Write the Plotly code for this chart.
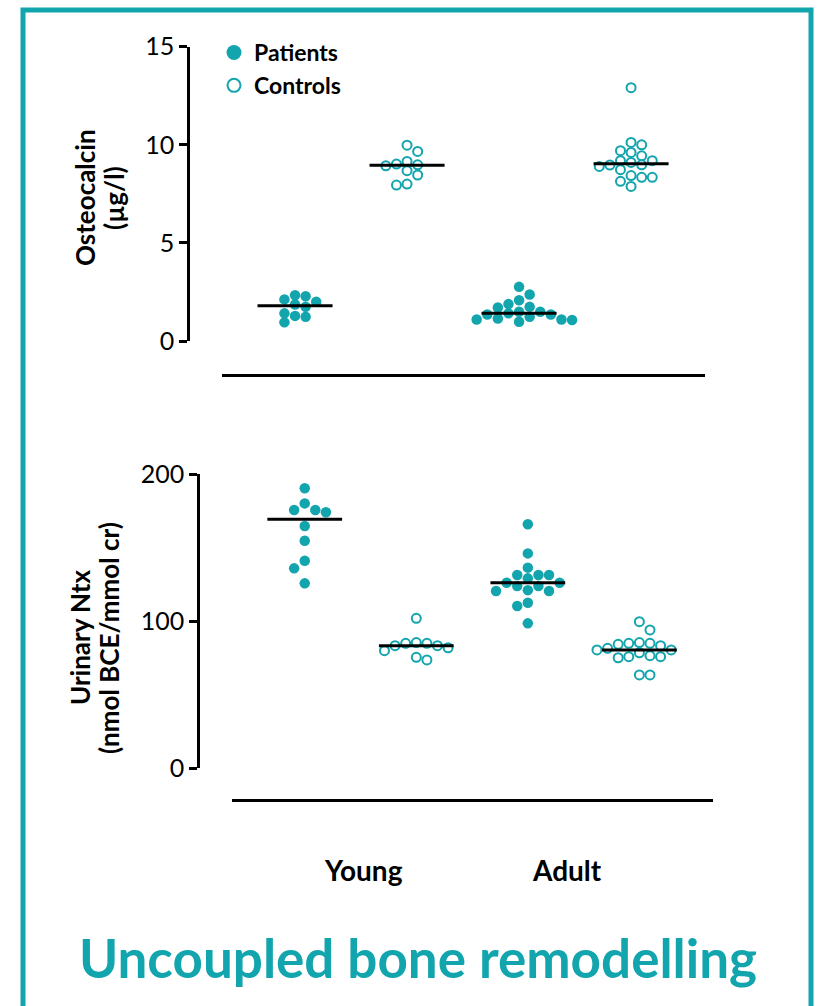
import numpy as np
import plotly.graph_objects as go

# ---------------- data ----------------
groups = ["Young", "Adult"]

oc_young_patients = [2.12, 1.86, 2.33, 1.74, 2.00, 2.28, 1.28, 0.95, 1.23, 1.41]
oc_young_controls = [9.66, 9.98, 8.98, 8.93, 9.02, 9.15, 8.46, 8.68, 7.95, 8.00]
oc_adult_patients = [2.76, 2.37, 2.08, 1.88, 1.74, 1.71, 1.49, 1.49, 1.41, 1.35,
                     1.35, 1.23, 1.15, 1.10, 1.10, 1.07, 0.98]
oc_adult_controls = [12.91, 10.12, 10.00, 9.70, 9.44, 9.61, 9.19, 8.98, 8.97, 8.73,
                     8.90, 9.10, 9.19, 8.43, 8.34, 7.88, 8.14, 8.34]

ntx_young_patients = [190.3, 180.0, 175.5, 174.0, 175.5, 164.6, 154.6, 141.0, 135.8, 125.6]
ntx_young_controls = [101.8, 85.3, 84.8, 83.2, 81.8, 83.2, 84.8, 79.8, 73.5, 75.3]
ntx_adult_patients = [165.8, 146.0, 136.3, 131.3, 131.3, 131.3, 129.0, 126.0, 123.8,
                      123.8, 126.0, 121.0, 120.4, 120.4, 112.4, 110.2, 98.4]
ntx_adult_controls = [99.5, 93.9, 84.1, 84.8, 83.2, 84.8, 85.3, 80.3, 81.4, 80.3,
                      75.7, 75.7, 75.0, 76.4, 78.4, 63.3, 63.3]

oc_ticks = [0, 5, 10, 15]
ntx_ticks = [0, 100, 200]

# ---------------- style ----------------
TEAL = "#13A5AE"
FONT = "Lato"
W, H = 818, 1006

POS = {"YP": 1, "YC": 2, "AP": 3, "AC": 4}
XRANGE = [0.348, 4.66]

top_dom_x = [222 / W, 705 / W]
bot_dom_x = [232 / W, 713 / W]
top_dom_y = [1 - 341 / H, 1 - 46.7 / H]
bot_dom_y = [1 - 768 / H, 1 - 474 / H]


def px_per_x(dom):
    return (dom[1] - dom[0]) * W / (XRANGE[1] - XRANGE[0])


def px_per_y(dom, rng):
    return (dom[1] - dom[0]) * H / (rng[1] - rng[0])


def swarm(vals, center, xs_px, ys_px, d=10.6, vgap=0.85):
    """Column-grid scatter (Prism style): columns spaced d px apart,
    points in the same column must be at least vgap*d px apart vertically."""
    vals = np.asarray(vals, dtype=float)
    order = np.argsort(-vals, kind="stable")
    cols = {}
    out = np.zeros(len(vals))
    side_count = {1: 0, -1: 0}
    for i in order:
        yp = vals[i] * ys_px
        chosen = None
        for k in range(0, 15):
            if k == 0:
                opts = [0]
            else:
                first = 1 if side_count[1] <= side_count[-1] else -1
                opts = [first * k, -first * k]
            for c in opts:
                if all(abs(yp - b) >= vgap * d for b in cols.get(c, [])):
                    chosen = c
                    break
            if chosen is not None:
                break
        cols.setdefault(chosen, []).append(yp)
        if chosen != 0:
            side_count[1 if chosen > 0 else -1] += 1
        out[i] = center + chosen * d / xs_px
    return out


fig = go.Figure()

panels = [
    ("x", "y", top_dom_x, top_dom_y, [0, 15],
     [("YP", oc_young_patients, True), ("YC", oc_young_controls, False),
      ("AP", oc_adult_patients, True), ("AC", oc_adult_controls, False)]),
    ("x2", "y2", bot_dom_x, bot_dom_y, [0, 200],
     [("YP", ntx_young_patients, True), ("YC", ntx_young_controls, False),
      ("AP", ntx_adult_patients, True), ("AC", ntx_adult_controls, False)]),
]

FILLED = dict(size=10.5, color=TEAL, line=dict(width=0))
OPEN = dict(size=9, color="white", line=dict(width=2, color=TEAL))

for xa, ya, domx, domy, yr, series in panels:
    sx = px_per_x(domx)
    sy = px_per_y(domy, yr)
    for key, vals, filled in series:
        c = POS[key]
        xs = swarm(vals, c, sx, sy)
        med = float(np.median(vals))
        fig.add_trace(go.Scatter(
            x=xs, y=vals, mode="markers", marker=FILLED if filled else OPEN,
            name="Patients" if filled else "Controls", showlegend=False,
            xaxis=xa, yaxis=ya))
        fig.add_trace(go.Scatter(
            x=[c - 0.335, c + 0.335], y=[med, med], mode="lines",
            line=dict(color="black", width=3), xaxis=xa, yaxis=ya,
            showlegend=False, hoverinfo="skip"))

# legend entries (legend-only traces with larger symbols)
fig.add_trace(go.Scatter(x=[None], y=[None], mode="markers", name="Patients",
                         marker=dict(size=15, color=TEAL, line=dict(width=0)),
                         legendrank=1))
fig.add_trace(go.Scatter(x=[None], y=[None], mode="markers", name="Controls",
                         marker=dict(size=13, color="white",
                                     line=dict(width=2, color=TEAL)),
                         legendrank=2))

axis_common = dict(showgrid=False, zeroline=False)
TICKFONT = dict(size=25, family=FONT, color="black")

fig.update_layout(
    width=W, height=H,
    margin=dict(l=0, r=0, t=0, b=0, autoexpand=False),
    paper_bgcolor="white", plot_bgcolor="rgba(0,0,0,0)",
    font=dict(family=FONT, color="black"),
    xaxis=dict(domain=top_dom_x, range=XRANGE, anchor="free",
               position=1 - 375 / H, showline=True, linecolor="black",
               linewidth=2.5, showticklabels=False, ticks="", **axis_common),
    yaxis=dict(domain=top_dom_y, range=[0, 15], anchor="free",
               position=188 / W, showline=True, linecolor="black",
               linewidth=2.5, tickvals=oc_ticks, ticks="outside",
               ticklen=8, tickwidth=2.5, tickcolor="black",
               tickfont=TICKFONT, **axis_common),
    xaxis2=dict(domain=bot_dom_x, range=XRANGE, anchor="free",
                position=1 - 800 / H, showline=True, linecolor="black",
                linewidth=2.5, showticklabels=False, ticks="", **axis_common),
    yaxis2=dict(domain=bot_dom_y, range=[0, 200], anchor="free",
                position=198 / W, showline=True, linecolor="black",
                linewidth=2.5, tickvals=ntx_ticks, ticks="outside",
                ticklen=8, tickwidth=2.5, tickcolor="black",
                tickfont=TICKFONT, **axis_common),
    legend=dict(x=214 / W, y=1 - 31 / H, xanchor="left", yanchor="top",
                font=dict(size=23, family=FONT, weight="bold"),
                bgcolor="rgba(0,0,0,0)", tracegroupgap=0, itemwidth=30),
    showlegend=True,
)

annotations = [
    dict(text="<b>Osteocalcin</b>", x=85 / W, y=1 - 198 / H, textangle=-90),
    dict(text="<b>(µg/l)</b>", x=114 / W, y=1 - 198 / H, textangle=-90),
    dict(text="<b>Urinary Ntx</b>", x=80 / W, y=1 - 638 / H, textangle=-90),
    dict(text="<b>(nmol BCE/mmol cr)</b>", x=109 / W, y=1 - 638 / H, textangle=-90),
]
for a in annotations:
    fig.add_annotation(xref="paper", yref="paper", showarrow=False,
                       xanchor="center", yanchor="middle",
                       font=dict(size=26, family=FONT, color="black"), **a)

for txt, xp in [(groups[0], 363), (groups[1], 567)]:
    fig.add_annotation(xref="paper", yref="paper", showarrow=False,
                       text="<b>" + txt + "</b>", x=xp / W, y=1 - 870 / H,
                       xanchor="center", yanchor="middle",
                       font=dict(size=28, family=FONT, color="black"))

fig.add_annotation(xref="paper", yref="paper", showarrow=False,
                   text="<b>Uncoupled bone remodelling</b>",
                   x=418 / W, y=1 - 957 / H, xanchor="center", yanchor="middle",
                   font=dict(size=53, family=FONT, color=TEAL))

fig.add_shape(type="rect", xref="paper", yref="paper",
              x0=23 / W, x1=811 / W, y0=-0.05, y1=1 - 10 / H,
              line=dict(color=TEAL, width=5), fillcolor="rgba(0,0,0,0)",
              layer="below")

fig.write_html("out.html")
